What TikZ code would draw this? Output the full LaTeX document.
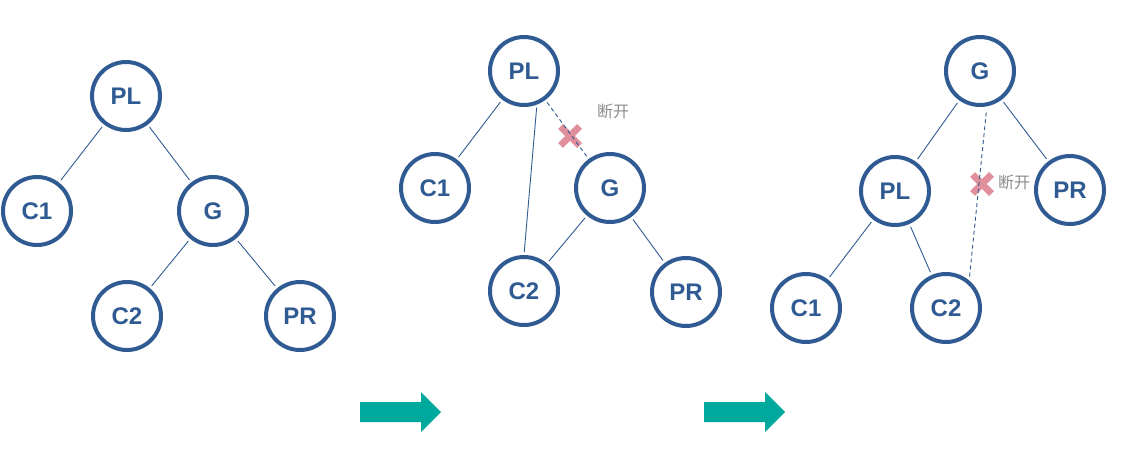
\documentclass[tikz,border=0pt]{standalone}
\usepackage{fontspec}
\usetikzlibrary{calc}
\setmainfont{Liberation Sans}
\newfontfamily\cjk{Noto Sans CJK SC}
\definecolor{nodeblue}{HTML}{2F5A92}
\definecolor{teal}{HTML}{00A99D}
\definecolor{xpink}{HTML}{E0909C}
\definecolor{lbl}{HTML}{8C8C8C}
\begin{document}
\begin{tikzpicture}[x=1pt,y=-1pt,
  tn/.style={circle,draw=nodeblue,line width=4pt,minimum size=68pt,inner sep=0pt,fill=white,
    text=nodeblue,font=\fontsize{24}{24}\selectfont\bfseries},
  edge/.style={draw=nodeblue,line width=0.9pt,shorten >=3pt,shorten <=3pt},
  cut/.style={draw=nodeblue,line width=0.9pt,dash pattern=on 4pt off 3pt},
  xmark/.style={draw=xpink,line width=7pt},
  cutlbl/.style={text=lbl,font=\cjk\fontsize{16}{16}\selectfont,inner sep=0pt},
  bigarrow/.style={fill=teal,draw=none}]
\useasboundingbox (0,0) rectangle (1126,461);
% Tree 1
\node[tn] (a1) at (126,96) {PL};
\node[tn] (a2) at (37,211) {C1};
\node[tn] (a3) at (213,211) {G};
\node[tn] (a4) at (127,316) {C2};
\node[tn] (a5) at (300,316) {PR};
\draw[edge] (a1) -- (a2);
\draw[edge] (a1) -- (a3);
\draw[edge] (a3) -- (a4);
\draw[edge] (a3) -- (a5);
% Tree 2
\node[tn] (b1) at (524,71) {PL};
\node[tn] (b2) at (435,188) {C1};
\node[tn] (b3) at (610,188) {G};
\node[tn] (b4) at (524,291) {C2};
\node[tn] (b5) at (686,292) {PR};
\draw[edge] (b1) -- (b2);
\draw[edge] (b1.-69) -- (b4.90);
\draw[edge] (b3) -- (b4);
\draw[edge] (b3) -- (b5);
\coordinate (x1) at (570,136);
\draw[xmark] ($(x1)+(-9.5,-9.5)$) -- ($(x1)+(9.5,9.5)$);
\draw[xmark] ($(x1)+(-9.5,9.5)$) -- ($(x1)+(9.5,-9.5)$);
\draw[cut,shorten <=3pt] (b1) -- (b3);
\node[cutlbl] (l1) at (613,111) {断开};
% Tree 3
\node[tn] (c1) at (980,71) {G};
\node[tn] (c2) at (895,191) {PL};
\node[tn] (c3) at (1070,190) {PR};
\node[tn] (c4) at (806,308) {C1};
\node[tn] (c5) at (946,308) {C2};
\draw[edge] (c1) -- (c2);
\draw[edge] (c1) -- (c3);
\draw[edge] (c2) -- (c4);
\draw[edge] (c2) -- (c5);
\coordinate (x2) at (982,184);
\draw[xmark] ($(x2)+(-9.5,-9.5)$) -- ($(x2)+(9.5,9.5)$);
\draw[xmark] ($(x2)+(-9.5,9.5)$) -- ($(x2)+(9.5,-9.5)$);
\draw[cut,shorten <=6pt,shorten >=3pt] (c1.-79) -- (c5.50);
\node[cutlbl] (l2) at (1014,182) {断开};
% Arrows
\fill[bigarrow] (360,402) -- (421,402) -- (421,392) -- (441,412) -- (421,432) -- (421,422) -- (360,422) -- cycle;
\fill[bigarrow] (704,402) -- (765,402) -- (765,392) -- (785,412) -- (765,432) -- (765,422) -- (704,422) -- cycle;
\end{tikzpicture}
\end{document}
